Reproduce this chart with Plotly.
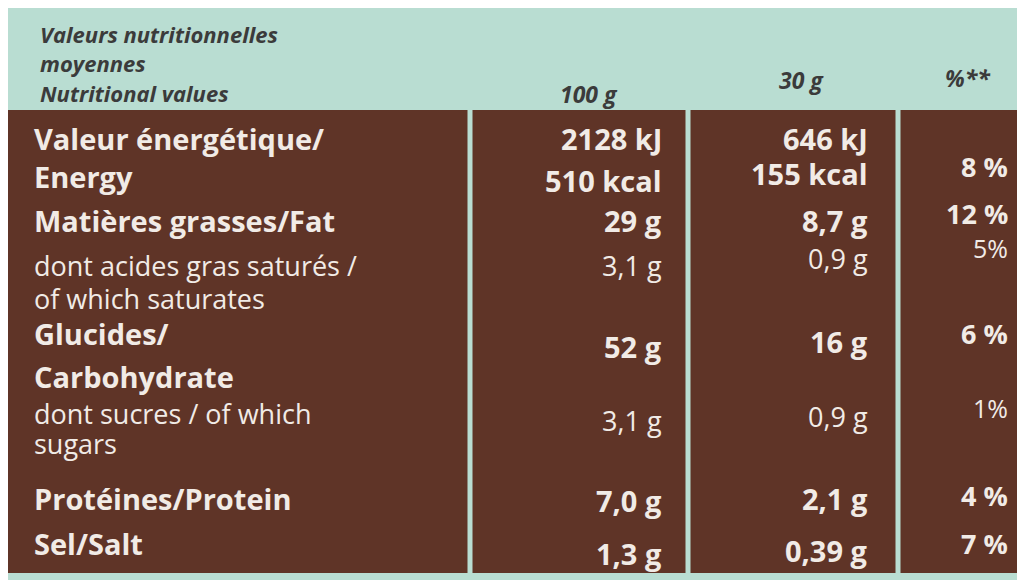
import plotly.graph_objects as go

# ----------------------------- Données de l'étiquette -----------------------------
header_lines = ["Valeurs nutritionnelles", "moyennes", "Nutritional values"]
col_heads = ["100 g", "30 g", "%**"]

labels = ["Valeur énergétique/", "Energy", "Matières grasses/Fat",
          "dont acides gras saturés /", "of which saturates",
          "Glucides/", "Carbohydrate", "dont sucres / of which", "sugars",
          "Protéines/Protein", "Sel/Salt"]
labels_bold = [True, True, True, False, False, True, True, False, False, True, True]

per100 = ["2128 kJ", "510 kcal", "29 g", "3,1 g", "52 g", "3,1 g", "7,0 g", "1,3 g"]
per100_bold = [True, True, True, False, True, False, True, True]
per30 = ["646 kJ", "155 kcal", "8,7 g", "0,9 g", "16 g", "0,9 g", "2,1 g", "0,39 g"]
per30_bold = [True, True, True, False, True, False, True, True]
pct = ["8 %", "12 %", "5%", "6 %", "1%", "4 %", "7 %"]
pct_bold = [True, True, False, True, False, True, True]

# ----------------------------- Positions (mise en page) -----------------------------
header_y = [26, 55, 85]
head_pos = [(612, 86), (818, 72), (985, 70)]
label_y = [130, 168, 212, 257, 290, 325, 368, 405, 435, 490, 535]
per100_y = [130, 172, 212, 257, 338, 412, 492, 545]
per30_y = [130, 165, 212, 250, 333, 408, 490, 542]
pct_y = [158, 205, 240, 325, 400, 487, 535]

MINT = "#b9ddd2"
BROWN = "#5f3427"
LIGHT = "#f1ebe6"
DARK = "#3b3b3b"
FONT = "Open Sans"

fig = go.Figure()
fig.add_trace(go.Scatter(x=[0, 1025], y=[0, 580], mode="markers", marker_opacity=0,
                         hoverinfo="skip", showlegend=False))

shapes = [
    dict(type="rect", x0=0, x1=1025, y0=0, y1=102, fillcolor=MINT, line_width=0, layer="below"),
    dict(type="rect", x0=0, x1=1025, y0=565, y1=580, fillcolor=MINT, line_width=0, layer="below"),
]
for xv in [462, 680, 890]:
    shapes.append(dict(type="line", x0=xv, x1=xv, y0=100, y1=566,
                       line=dict(color=MINT, width=5)))

ann = []
def txt(s, x, y, bold, color, anchor, size=29, italic=False):
    t = "<b>%s</b>" % s if bold else s
    if italic:
        t = "<i>%s</i>" % t
    ann.append(dict(text=t, x=x, y=y, xref="x", yref="y", showarrow=False,
                    xanchor=anchor, yanchor="middle",
                    font=dict(family=FONT, size=size, color=color)))

for s, y in zip(header_lines, header_y):
    txt(s, 30, y, True, DARK, "left", 22, italic=True)
for s, (x, y) in zip(col_heads, head_pos):
    txt(s, x, y, True, DARK, "right", 23, italic=True)
for s, y, b in zip(labels, label_y, labels_bold):
    txt(s, 24, y, b, LIGHT, "left", 29 if b else 27)
for s, y, b in zip(per100, per100_y, per100_bold):
    txt(s, 656, y, b, LIGHT, "right", 29 if b else 27)
for s, y, b in zip(per30, per30_y, per30_bold):
    txt(s, 862, y, b, LIGHT, "right", 29 if b else 27)
for s, y, b in zip(pct, pct_y, pct_bold):
    txt(s, 1002, y, b, LIGHT, "right", 27 if b else 25)

fig.update_layout(
    width=1025, height=580, margin=dict(l=0, r=0, t=0, b=0),
    plot_bgcolor=BROWN, paper_bgcolor=MINT,
    xaxis=dict(range=[0, 1025], visible=False, fixedrange=True),
    yaxis=dict(range=[580, 0], visible=False, fixedrange=True),
    shapes=shapes, annotations=ann)

fig.write_html("out.html")
